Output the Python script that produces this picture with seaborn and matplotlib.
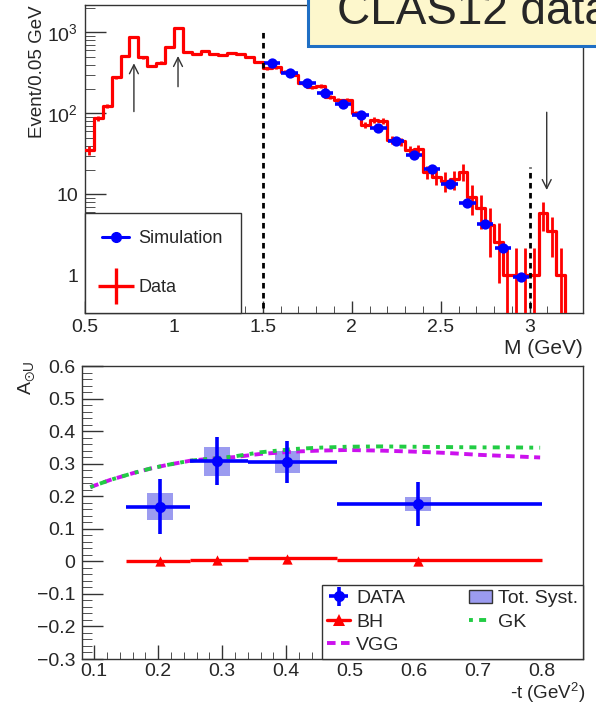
import numpy as np
import pandas as pd
import seaborn as sns
import matplotlib
matplotlib.use("Agg")
import matplotlib.pyplot as plt
from matplotlib.patches import Rectangle, Patch
from matplotlib.lines import Line2D
from matplotlib.ticker import MultipleLocator, FixedLocator, FixedFormatter, LogLocator, NullFormatter

# ---------------- data: top panel (invariant mass) ----------------
mass_edges = [0.50, 0.55, 0.60, 0.65, 0.70, 0.75, 0.80, 0.85, 0.90, 0.95,
              1.00, 1.05, 1.10, 1.15, 1.20, 1.25, 1.30, 1.35, 1.40, 1.45,
              1.50, 1.55, 1.60, 1.65, 1.70, 1.75, 1.80, 1.85, 1.90, 1.95,
              2.00, 2.05, 2.10, 2.15, 2.20, 2.25, 2.30, 2.35, 2.40, 2.45,
              2.50, 2.55, 2.60, 2.65, 2.70, 2.75, 2.80, 2.85, 2.90, 2.95,
              3.00, 3.05, 3.10, 3.15, 3.20, 3.25, 3.30]
data_counts = [35, 87, 123, 278, 510, 867, 490, 384, 422, 654,
               1120, 576, 540, 590, 540, 525, 560, 540, 490, 433,
               360, 370, 326, 300, 235, 210, 217, 160, 146, 146,
               100, 72, 83, 81, 47, 45, 35, 36, 19, 16.5,
               14.7, 15.3, 19, 9.3, 6.7, 4.2, 2.6, 1, 1, 1,
               1, 5.8, 3.5, 1, 0, 0]
data_err = [4, 6, 8, 12, 16, 22, 16, 14, 15, 18,
            26, 17, 16, 17, 16, 16, 17, 16, 15, 15,
            14, 14, 13, 12, 11, 10, 11, 9, 9, 9,
            7, 6, 7, 7, 5, 5, 4.5, 4.5, 3.5, 3.4,
            4, 4, 4.5, 3.7, 3, 2.5, 1.8, 1.2, 1.2, 1.2,
            1.2, 2.3, 1.8, 1.2, 0, 0]
sim_mass = [1.55, 1.65, 1.75, 1.85, 1.95, 2.05, 2.15, 2.25, 2.35, 2.45,
            2.55, 2.65, 2.75, 2.85, 2.95]
sim_events = [414, 318, 235, 177, 129, 94, 65, 45, 30.5, 20.5,
              13.3, 7.9, 4.3, 2.2, 0.96]
cut_lines = [1.5, 3.0]
cut_tops = [1100, 22]
arrow_x = [0.775, 1.023, 3.096]
arrow_tail = [105, 213, 103]
arrow_head = [414, 509, 11.3]

# ---------------- data: bottom panel (BSA vs -t) ----------------
t_lo = [0.15, 0.25, 0.34, 0.48]
t_hi = [0.25, 0.34, 0.48, 0.80]
t_mean = [0.203, 0.292, 0.402, 0.606]
alu = [0.168, 0.307, 0.305, 0.177]
alu_stat = [0.084, 0.074, 0.065, 0.067]
alu_syst = [0.042, 0.044, 0.034, 0.022]
bh_step = [0.001, 0.004, 0.009, 0.003]
bh_mark = [0.000, 0.003, 0.008, 0.002]
t_curve = [0.094, 0.125, 0.161, 0.19, 0.214, 0.25, 0.28, 0.318, 0.36,
           0.412, 0.45, 0.495, 0.55, 0.599, 0.65, 0.703, 0.75, 0.797]
vgg = [0.228, 0.25, 0.271, 0.286, 0.296, 0.309, 0.315, 0.32, 0.33,
       0.337, 0.34, 0.342, 0.34, 0.337, 0.333, 0.327, 0.323, 0.319]
gk = [0.228, 0.25, 0.271, 0.286, 0.296, 0.309, 0.315, 0.322, 0.335,
      0.345, 0.349, 0.352, 0.353, 0.352, 0.351, 0.35, 0.35, 0.349]

# ---------------- style ----------------
sns.set_style("ticks")
plt.rcParams["font.family"] = ["Liberation Sans", "DejaVu Sans"]
plt.rcParams["mathtext.fontset"] = "custom"
plt.rcParams["mathtext.rm"] = "Liberation Sans"
plt.rcParams["mathtext.it"] = "Liberation Sans:italic"
plt.rcParams["axes.unicode_minus"] = True

RED = "#ff0000"
BLUE = "#0000ff"
FRAME = "#333333"
VGG_LS = (0, (2.2, 1.4))
GK_LS = (0, (1, 1.6, 1.8, 1.6))

W, H = 596, 705
fig = plt.figure(figsize=(W / 100, H / 100), dpi=100)

def fax(l, t, r, b):
    return [l / W, 1 - b / H, (r - l) / W, (b - t) / H]

ax1 = fig.add_axes(fax(85, 5, 583, 313))
ax2 = fig.add_axes(fax(82, 366, 583, 659))

for ax in (ax1, ax2):
    for s in ax.spines.values():
        s.set_visible(True)
        s.set_color(FRAME)
        s.set_linewidth(1.0)
    ax.set_facecolor("white")

# ---------------- top panel ----------------
centers = [(mass_edges[i] + mass_edges[i + 1]) / 2 for i in range(len(data_counts))]
ax1.set_yscale("log", nonpositive="clip")
ax1.step(mass_edges, data_counts + [data_counts[-1]], where="post", color=RED, lw=2.3, zorder=3)
ax1.errorbar(centers, data_counts, yerr=data_err, fmt="none", ecolor=RED, elinewidth=2.0, zorder=3)
ax1.errorbar(sim_mass, sim_events, xerr=0.046, fmt="none", ecolor=BLUE, elinewidth=2.6, zorder=4)
sns.scatterplot(x=sim_mass, y=sim_events, ax=ax1, color=BLUE, s=55, linewidth=0, zorder=5)

for x, top in zip(cut_lines, cut_tops):
    ax1.plot([x, x], [0.3, top], color="black", lw=2.0, ls=(0, (2, 1.6)), zorder=6)
for x, t0, t1 in zip(arrow_x, arrow_tail, arrow_head):
    ax1.annotate("", xy=(x, t1), xytext=(x, t0),
                 arrowprops=dict(arrowstyle="->", color="#333333", lw=1.0,
                                 mutation_scale=16, shrinkA=0, shrinkB=0), zorder=6)

ax1.set_xlim(0.5, 3.3)
ax1.set_ylim(0.343, 2170)
ax1.xaxis.set_major_locator(FixedLocator([0.5, 1.0, 1.5, 2.0, 2.5, 3.0]))
ax1.xaxis.set_major_formatter(FixedFormatter(["0.5", "1", "1.5", "2", "2.5", "3"]))
ax1.xaxis.set_minor_locator(MultipleLocator(0.1))
ax1.yaxis.set_major_locator(FixedLocator([1, 10, 100, 1000]))
ax1.yaxis.set_major_formatter(FixedFormatter(["1", "10", r"$\mathregular{10^{2}}$", r"$\mathregular{10^{3}}$"]))
ax1.yaxis.set_minor_locator(LogLocator(base=10, subs=np.arange(2, 10)))
ax1.yaxis.set_minor_formatter(NullFormatter())
ax1.tick_params(axis="both", which="major", direction="in", labelsize=14, color=FRAME, width=1)
ax1.tick_params(axis="x", which="major", length=9, pad=4)
ax1.tick_params(axis="x", which="minor", direction="in", length=5, color=FRAME)
ax1.tick_params(axis="y", which="major", length=15, pad=5)
ax1.tick_params(axis="y", which="minor", direction="in", length=7, color=FRAME)
ax1.set_xlabel("")
ax1.set_ylabel("")

sim_h = Line2D([], [], color=BLUE, marker="o", ms=7, lw=2.2)
dat_h = Line2D([], [], color=RED, marker="+", ms=26, mew=2.4, ls="none")
leg1 = ax1.legend([sim_h, dat_h], ["Simulation", "Data"], loc="lower left",
                  bbox_to_anchor=(0, 0, 156 / 498, 0.33), mode="expand", borderaxespad=0,
                  frameon=True, fancybox=False, edgecolor=FRAME, fontsize=13,
                  labelspacing=1.75, handlelength=1.5, handletextpad=0.5, borderpad=0.95)
leg1.get_frame().set_linewidth(1.0)

fig.text(37 / W, 1 - 72 / H, "Event/0.05 GeV", rotation=90, ha="center", va="center", fontsize=13.5)
fig.text(583 / W, 1 - 348 / H, "M (GeV)", ha="right", va="center", fontsize=15)

# ---------------- bottom panel ----------------
t_mean_a = np.array(t_mean)
xerr = [t_mean_a - np.array(t_lo), np.array(t_hi) - t_mean_a]
ax2.bar(t_mean, [2 * s for s in alu_syst], bottom=[a - s for a, s in zip(alu, alu_syst)],
        width=0.04, color="#9b9bf0", edgecolor="none", zorder=2)
sns.lineplot(x=t_curve, y=vgg, ax=ax2, color="#cc11ee", lw=2.8, ls=VGG_LS, zorder=3)
sns.lineplot(x=t_curve, y=gk, ax=ax2, color="#22cc44", lw=2.8, ls=GK_LS, zorder=3)
ax2.hlines(bh_step, t_lo, t_hi, color=RED, lw=2.4, zorder=4)
sns.scatterplot(x=t_mean, y=bh_mark, ax=ax2, color=RED, marker="^", s=55, linewidth=0, zorder=5)
data_cont = ax2.errorbar(t_mean, alu, xerr=xerr, yerr=alu_stat, fmt="o", color=BLUE, ms=7,
                         elinewidth=2.6, capsize=0, zorder=6)

ax2.set_xlim(0.081, 0.864)
ax2.set_ylim(-0.3, 0.6)
ax2.xaxis.set_major_locator(FixedLocator([0.1, 0.2, 0.3, 0.4, 0.5, 0.6, 0.7, 0.8]))
ax2.xaxis.set_major_formatter(FixedFormatter(["0.1", "0.2", "0.3", "0.4", "0.5", "0.6", "0.7", "0.8"]))
ax2.xaxis.set_minor_locator(MultipleLocator(0.02))
ax2.yaxis.set_major_locator(FixedLocator([-0.3, -0.2, -0.1, 0, 0.1, 0.2, 0.3, 0.4, 0.5, 0.6]))
ax2.yaxis.set_major_formatter(FixedFormatter(["\u22120.3", "\u22120.2", "\u22120.1", "0", "0.1",
                                              "0.2", "0.3", "0.4", "0.5", "0.6"]))
ax2.yaxis.set_minor_locator(MultipleLocator(0.02))
ax2.tick_params(axis="both", which="major", direction="in", labelsize=14, color=FRAME, width=1)
ax2.tick_params(axis="x", which="major", length=10, pad=3)
ax2.tick_params(axis="x", which="minor", direction="in", length=5, color=FRAME)
ax2.tick_params(axis="y", which="major", length=15, pad=5)
ax2.tick_params(axis="y", which="minor", direction="in", length=7, color=FRAME)
ax2.set_xlabel("")
ax2.set_ylabel("")

bh_h = Line2D([], [], color=RED, marker="^", ms=8, lw=2.4, mew=0)
vgg_h = Line2D([], [], color="#cc11ee", lw=2.8, ls=VGG_LS)
gk_h = Line2D([], [], color="#22cc44", lw=2.8, ls=GK_LS)
syst_h = Patch(facecolor="#9b9bf0", edgecolor=FRAME, lw=1)
leg2 = ax2.legend([data_cont, bh_h, vgg_h, syst_h, gk_h],
                  ["DATA", "BH", "VGG", "Tot. Syst.", "GK"], ncol=2,
                  loc="lower left", bbox_to_anchor=((322 - 82) / 501, 0, (583 - 322) / 501, 0.27),
                  mode="expand", borderaxespad=0, frameon=True, fancybox=False, edgecolor=FRAME,
                  fontsize=14, labelspacing=0.3, handlelength=1.2, handletextpad=0.3,
                  borderpad=0.25, columnspacing=0.8)
leg2.get_frame().set_linewidth(1.0)
for lg in (leg1, leg2):
    lg.get_frame().set_alpha(1)

fig.text(27 / W, 1 - 378 / H, r"$\mathregular{A_{\odot U}}$", rotation=90, ha="center", va="center", fontsize=14)
fig.text(586 / W, 1 - 693 / H, r"-t (GeV$\mathregular{^2}$)", ha="right", va="center", fontsize=13.5)

# ---------------- CLAS12 data banner ----------------
fig.patches.append(Rectangle((308 / W, 1 - 46 / H), 0.6, 0.2, transform=fig.transFigure,
                             facecolor="#fdf7cc", edgecolor="#1f6fc4", lw=2.2, zorder=10))
fig.text(337 / W, 1 - 24 / H, "CLAS12 data", ha="left", va="baseline", fontsize=33, zorder=11)

fig.savefig("out.png", dpi=100)
